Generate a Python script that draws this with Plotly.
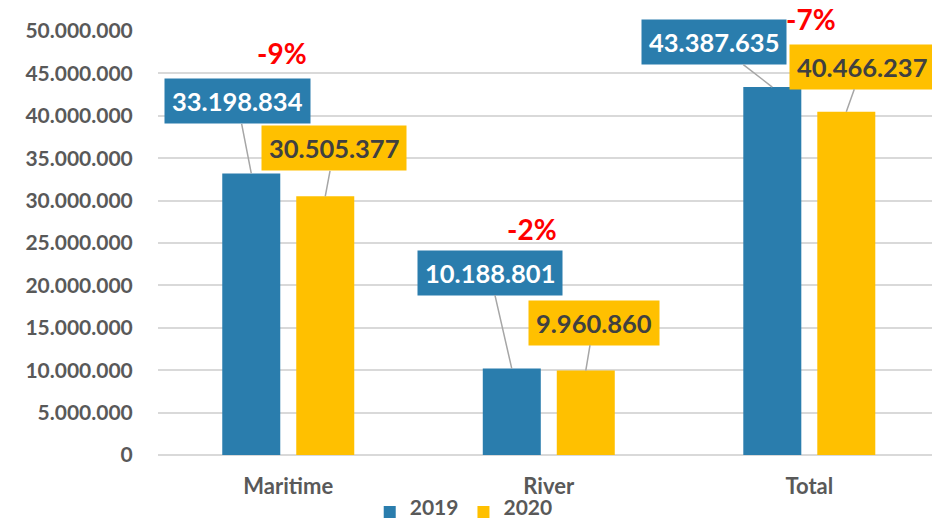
import plotly.graph_objects as go

categories = ["Maritime", "River", "Total"]
series_names = ["2019", "2020"]
values_2019 = [33198834, 10188801, 43387635]
values_2020 = [30505377, 9960860, 40466237]
change_labels = ["-9%", "-2%", "-7%"]
y_ticks = [0, 5000000, 10000000, 15000000, 20000000, 25000000,
           30000000, 35000000, 40000000, 45000000, 50000000]

BLUE = "#2A7DAD"
GOLD = "#FFC000"
GREY_TXT = "#595959"
FONT = "Lato"

BARGAP = 0.432
BARGROUPGAP = 0.216
M_T, M_B = 31, 72
H = 527

# label box offsets in pixels (text box centre relative to bar top)
off_2019 = [(-14, -72), (-22, -96), (-58, -45)]
off_2020 = [(9, -48), (8, -48), (16, -45)]
# percent-label offsets in pixels relative to 2019 bar top
off_pct = [(31, -120), (20, -140), (39, -68)]

def fmt(v):
    return f"{v:,}".replace(",", ".")

def legend_name(s):
    return f"<span style='font-size:21px'>{s}</span>"

fig = go.Figure()
fig.add_trace(go.Bar(name=legend_name(series_names[0]), x=categories, y=values_2019,
                     marker=dict(color=BLUE, line=dict(width=0))))
fig.add_trace(go.Bar(name=legend_name(series_names[1]), x=categories, y=values_2020,
                     marker=dict(color=GOLD, line=dict(width=0))))

slot = (1 - BARGAP) / 2
annotations = []
for i, cat in enumerate(categories):
    for vals, offs, bg, fc, sign in [(values_2019, off_2019, BLUE, "white", -1),
                                      (values_2020, off_2020, GOLD, "#404040", 1)]:
        annotations.append(dict(
            x=i + sign * slot / 2, y=vals[i], xref="x", yref="y",
            text=fmt(vals[i]), showarrow=True, arrowhead=0, arrowwidth=1.5,
            arrowcolor="#A6A6A6", ax=offs[i][0], ay=offs[i][1], standoff=0,
            bgcolor=bg, borderpad=7,
            font=dict(family=FONT, size=25.5, color=fc, weight="bold")))
    annotations.append(dict(
        x=i - slot / 2, y=values_2019[i], xref="x", yref="y",
        text=change_labels[i], showarrow=False,
        xshift=off_pct[i][0], yshift=-off_pct[i][1],
        font=dict(family=FONT, size=28, color="#FF0000", weight="bold")))

plot_h = H - M_T - M_B
fig.update_layout(
    width=932, height=H,
    margin=dict(l=158, r=0, t=M_T, b=M_B),
    paper_bgcolor="white", plot_bgcolor="white",
    barmode="group", bargap=BARGAP, bargroupgap=BARGROUPGAP,
    separators=",.",
    showlegend=True,
    legend=dict(orientation="h", x=0.395, xanchor="center",
                y=-(M_B - 0.5) / plot_h, yanchor="bottom",
                bgcolor="rgba(0,0,0,0)", tracegroupgap=0,
                font=dict(family=FONT, size=7, color=GREY_TXT, weight="bold"),
                itemwidth=30, traceorder="normal"),
    annotations=annotations,
    font=dict(family=FONT, color=GREY_TXT),
)
fig.update_xaxes(range=[-0.5, 2.471], showgrid=False, showline=False, zeroline=False,
                 ticks="outside", ticklen=12, tickcolor="rgba(0,0,0,0)",
                 tickfont=dict(family=FONT, size=22, color=GREY_TXT, weight="bold"))
fig.update_yaxes(range=[0, 50000000], tickvals=y_ticks, tickformat=",d",
                 showgrid=True, gridcolor="#D9D9D9", gridwidth=1.5,
                 zeroline=True, zerolinecolor="#D9D9D9", zerolinewidth=1.5,
                 ticks="outside", ticklen=20, tickcolor="rgba(0,0,0,0)",
                 tickfont=dict(family=FONT, size=21, color=GREY_TXT, weight="bold"))

fig.write_html("out.html", config={"displayModeBar": False},
               post_script="document.body.style.margin='0';document.body.style.padding='0';")
